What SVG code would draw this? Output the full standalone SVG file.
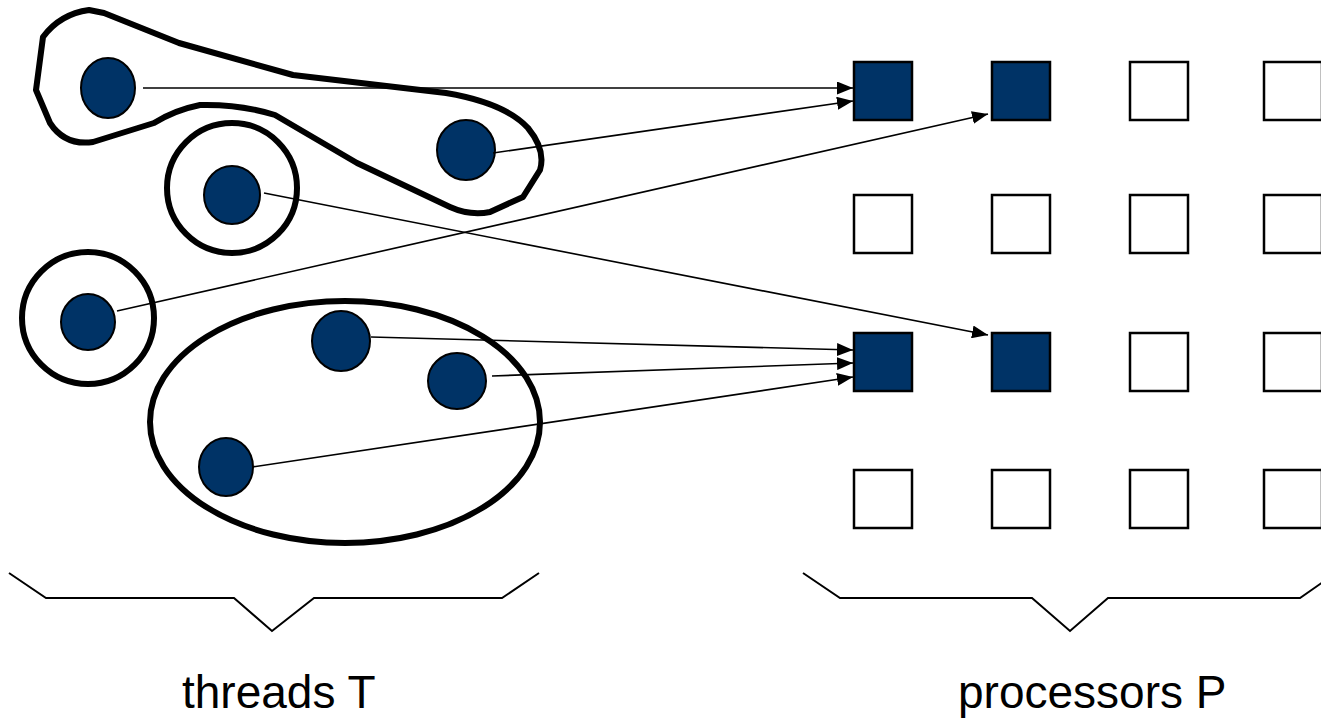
<svg xmlns="http://www.w3.org/2000/svg" width="1321" height="721" viewBox="0 0 1321 721">
<style>
.thread{fill:#003366;stroke:#000;stroke-width:2}
.group{fill:none;stroke:#000;stroke-width:6;stroke-linejoin:round}
.proc{fill:#fff;stroke:#000;stroke-width:2.5}
.busy{fill:#003366}
.conn{stroke:#000;stroke-width:1.6;fill:none}
.brace{fill:none;stroke:#000;stroke-width:2}
.label{font-family:"Liberation Sans",Arial,sans-serif;font-size:46px;fill:#000}
</style>
<defs>
<marker id="arr" markerUnits="userSpaceOnUse" markerWidth="17" markerHeight="13" refX="16" refY="6.5" orient="auto">
<path d="M0,0 L16,6.5 L0,13 z" fill="#000"/>
</marker>
</defs>
<rect width="1321" height="721" fill="#fff"/>
<g id="groups">
<path id="group-a" class="group" d="M43,37 Q60,14 89,10 L104,13 L179,43 L293,75 L446,93 Q505,103 528,128 Q546,150 540,170 L523,197 L490,212 Q470,216 450,207 L357,163 L275,115 Q240,104 200,105 Q175,110 154,123 L93,142 Q65,146 50,123 L36,90 Z"/>
<circle id="group-b" class="group" cx="232" cy="188" r="65"/>
<circle id="group-c" class="group" cx="88" cy="318" r="66"/>
<ellipse id="group-d" class="group" cx="345" cy="422" rx="195" ry="121"/>
</g>
<g id="threads">
<g id="t1"><ellipse class="thread" cx="108" cy="88" rx="27" ry="30"/></g>
<g id="t2"><ellipse class="thread" cx="466" cy="150" rx="29" ry="30"/></g>
<g id="t3"><ellipse class="thread" cx="232" cy="195" rx="28" ry="29"/></g>
<g id="t4"><ellipse class="thread" cx="88" cy="322" rx="27" ry="28"/></g>
<g id="t5"><ellipse class="thread" cx="341" cy="341" rx="29" ry="30"/></g>
<g id="t6"><ellipse class="thread" cx="457" cy="381" rx="29" ry="28"/></g>
<g id="t7"><ellipse class="thread" cx="226" cy="467" rx="27" ry="29"/></g>
</g>
<g id="processors">
<g id="p00"><rect class="proc busy" x="854" y="62" width="58" height="58"/></g>
<g id="p01"><rect class="proc busy" x="992" y="62" width="58" height="58"/></g>
<g id="p02"><rect class="proc" x="1130" y="62" width="58" height="58"/></g>
<g id="p03"><rect class="proc" x="1264" y="62" width="58" height="58"/></g>
<g id="p10"><rect class="proc" x="854" y="195" width="58" height="58"/></g>
<g id="p11"><rect class="proc" x="992" y="195" width="58" height="58"/></g>
<g id="p12"><rect class="proc" x="1130" y="195" width="58" height="58"/></g>
<g id="p13"><rect class="proc" x="1264" y="195" width="58" height="58"/></g>
<g id="p20"><rect class="proc busy" x="854" y="333" width="58" height="58"/></g>
<g id="p21"><rect class="proc busy" x="992" y="333" width="58" height="58"/></g>
<g id="p22"><rect class="proc" x="1130" y="333" width="58" height="58"/></g>
<g id="p23"><rect class="proc" x="1264" y="333" width="58" height="58"/></g>
<g id="p30"><rect class="proc" x="854" y="470" width="58" height="58"/></g>
<g id="p31"><rect class="proc" x="992" y="470" width="58" height="58"/></g>
<g id="p32"><rect class="proc" x="1130" y="470" width="58" height="58"/></g>
<g id="p33"><rect class="proc" x="1264" y="470" width="58" height="58"/></g>
</g>
<g id="connectors">
<line class="conn" x1="143" y1="88" x2="853" y2="88" marker-end="url(#arr)"/>
<line class="conn" x1="493" y1="153" x2="853" y2="101" marker-end="url(#arr)"/>
<line class="conn" x1="117" y1="311" x2="988" y2="114" marker-end="url(#arr)"/>
<line class="conn" x1="264" y1="193" x2="988" y2="335" marker-end="url(#arr)"/>
<line class="conn" x1="371" y1="337" x2="853" y2="350" marker-end="url(#arr)"/>
<line class="conn" x1="492" y1="376" x2="853" y2="363" marker-end="url(#arr)"/>
<line class="conn" x1="252" y1="467" x2="853" y2="377" marker-end="url(#arr)"/>
</g>
<g id="braces">
<polyline class="brace" points="9,573 46,598 234,598 272,631 314,598 502,598 539,573"/>
<polyline class="brace" points="803,573 840,598 1032,598 1070,631 1108,598 1300,598 1323,582"/>
</g>
<g id="labels">
<text class="label" x="182" y="708">threads T</text>
<text class="label" x="958" y="708">processors P</text>
</g>
</svg>
